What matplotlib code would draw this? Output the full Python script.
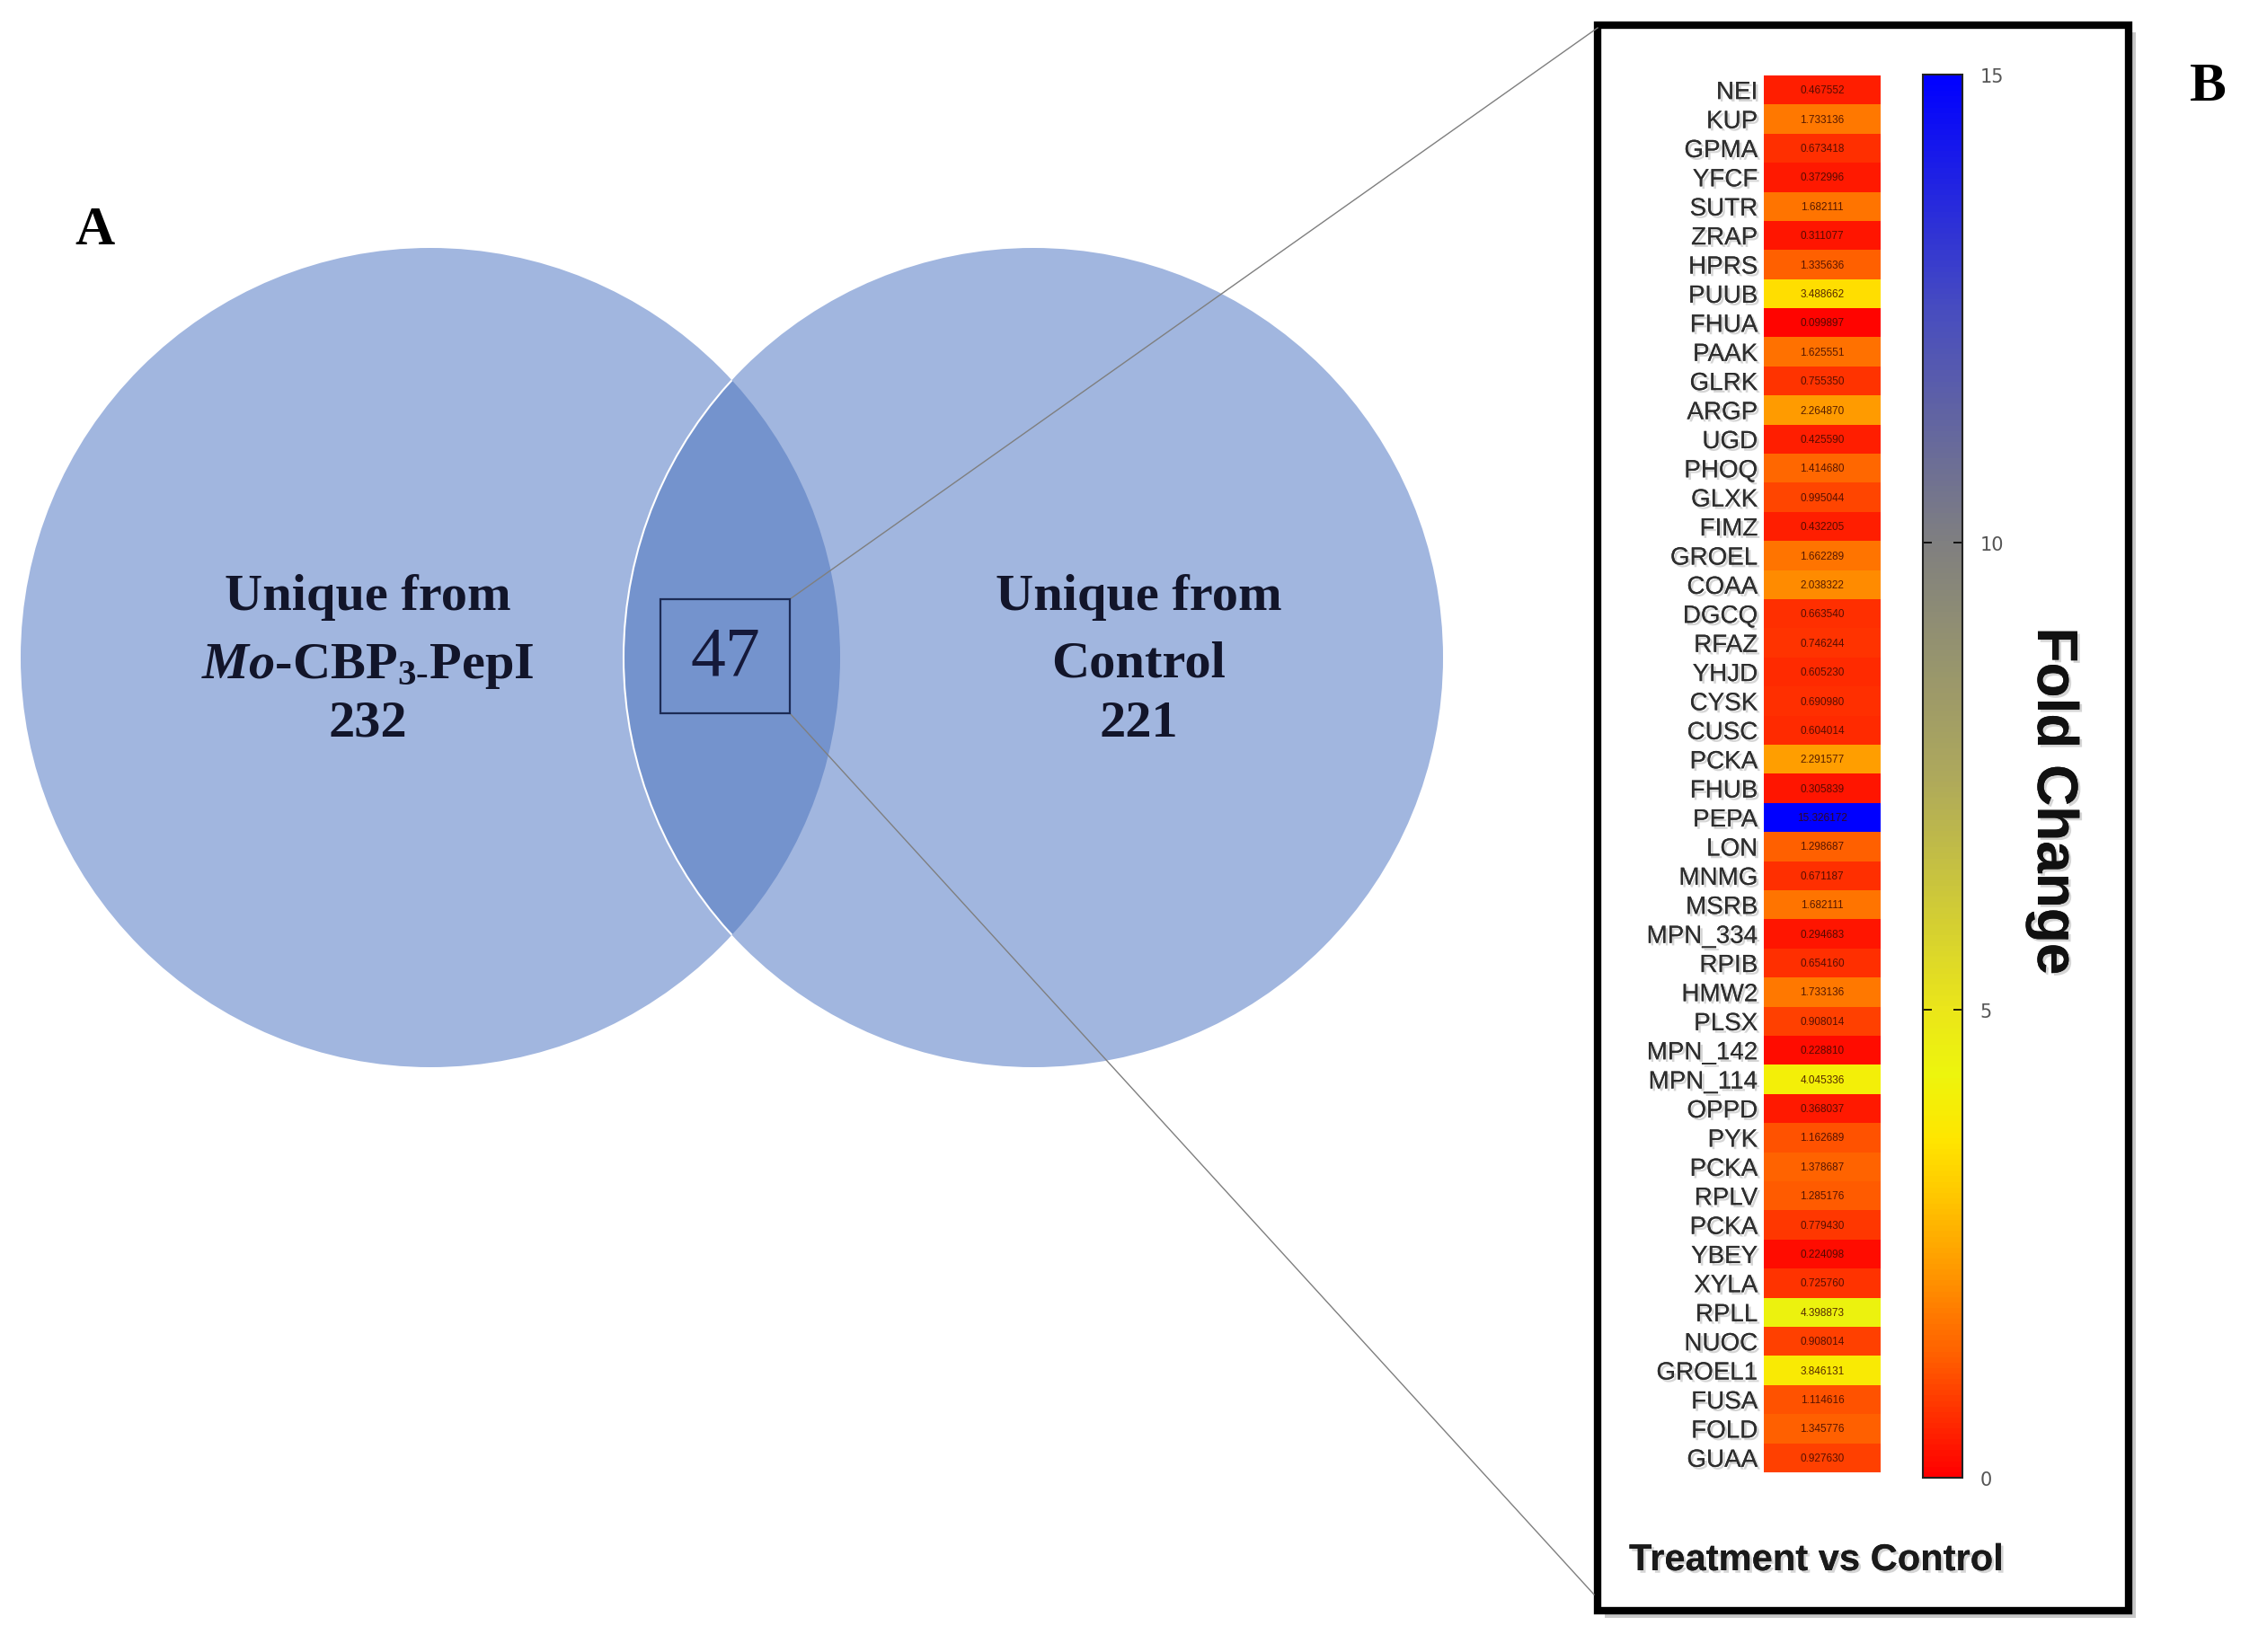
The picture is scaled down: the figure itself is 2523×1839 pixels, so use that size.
import numpy as np
import matplotlib
matplotlib.use("Agg")
import matplotlib.pyplot as plt
import matplotlib.patheffects as pe
from matplotlib.patches import Circle, Rectangle
from matplotlib.colors import LinearSegmentedColormap, Normalize

plt.rcParams['mathtext.fontset'] = 'custom'
plt.rcParams['mathtext.rm'] = 'Liberation Serif:bold'
plt.rcParams['mathtext.it'] = 'Liberation Serif:bold:italic'

# venn counts
n_left = 232
n_right = 221
n_both = 47

# heatmap data (fold change, treatment vs control)
genes = ["NEI", "KUP", "GPMA", "YFCF", "SUTR", "ZRAP", "HPRS", "PUUB", "FHUA", "PAAK",
         "GLRK", "ARGP", "UGD", "PHOQ", "GLXK", "FIMZ", "GROEL", "COAA", "DGCQ", "RFAZ",
         "YHJD", "CYSK", "CUSC", "PCKA", "FHUB", "PEPA", "LON", "MNMG", "MSRB", "MPN_334",
         "RPIB", "HMW2", "PLSX", "MPN_142", "MPN_114", "OPPD", "PYK", "PCKA", "RPLV", "PCKA",
         "YBEY", "XYLA", "RPLL", "NUOC", "GROEL1", "FUSA", "FOLD", "GUAA"]
fold = [0.467552, 1.733136, 0.673418, 0.372996, 1.682111, 0.311077, 1.335636, 3.488662,
        0.099897, 1.625551, 0.755350, 2.264870, 0.425590, 1.414680, 0.995044, 0.432205,
        1.662289, 2.038322, 0.663540, 0.746244, 0.605230, 0.690980, 0.604014, 2.291577,
        0.305839, 15.326172, 1.298687, 0.671187, 1.682111, 0.294683, 0.654160, 1.733136,
        0.908014, 0.228810, 4.045336, 0.368037, 1.162689, 1.378687, 1.285176, 0.779430,
        0.224098, 0.725760, 4.398873, 0.908014, 3.846131, 1.114616, 1.345776, 0.927630]
cbar_ticks = [0, 5, 10, 15]

W, H = 2523, 1840
fig = plt.figure(figsize=(W / 100, H / 100), dpi=100)
ax = fig.add_axes([0, 0, 1, 1])
ax.set_xlim(0, W)
ax.set_ylim(H, 0)
ax.axis('off')

# ---- panel A: venn ----
light = '#a1b6df'
dark = '#7493cd'
r = 456
cl = (479, 733)
cr = (1150, 733)
ax.add_patch(Circle(cl, r, fc=light, ec='none', zorder=1))
ax.add_patch(Circle(cr, r, fc=light, ec='none', zorder=1))
clip = Circle(cl, r, transform=ax.transData)
inter = Circle(cr, r, fc=dark, ec='white', lw=1.5, zorder=2)
ax.add_patch(inter)
inter.set_clip_path(clip)

txt_kw = dict(family='Liberation Serif', weight='bold', fontsize=42, color='#12152a',
              ha='center', va='center', zorder=5)
ax.text(409, 665, "Unique from", **txt_kw)
ax.text(409, 742, r"$\mathit{Mo}$-CBP$_{3\text{-}}$PepI", **txt_kw)
ax.text(409, 806, str(n_left), **txt_kw)
ax.text(1267, 665, "Unique from", **txt_kw)
ax.text(1267, 740, "Control", **txt_kw)
ax.text(1267, 806, str(n_right), **txt_kw)

ax.add_patch(Rectangle((735, 668), 144, 127, fc='none', ec='#1c2b55', lw=1.6, zorder=6))
ax.text(807, 733, str(n_both), family='Liberation Serif', fontsize=56, color='#15193a',
        ha='center', va='center', zorder=6)

ax.plot([879, 1778], [668, 32], color='#7f7f7f', lw=1, zorder=4)
ax.plot([879, 1774], [795, 1776], color='#7f7f7f', lw=1, zorder=4)

ax.text(105, 257, "A", family='Liberation Serif', weight='bold', fontsize=44,
        ha='center', va='center', color='black')
ax.text(2457, 97, "B", family='Liberation Serif', weight='bold', fontsize=44,
        ha='center', va='center', color='black')

# ---- panel B frame ----
ax.add_patch(Rectangle((1786, 37), 591, 1765, fc='#c8c8c8', ec='none', zorder=3))
ax.add_patch(Rectangle((1778, 29), 591, 1765, fc='white', ec='black', lw=6, zorder=3))

shadow = [pe.withSimplePatchShadow(offset=(2, -2), shadow_rgbFace='#888888', alpha=0.35),
          pe.Normal()]
ax.text(1813, 1738, "Treatment vs Control", family='Liberation Sans', weight='bold',
        fontsize=30, color='#1a1a1a', ha='left', va='center', zorder=6, path_effects=shadow)
ax.text(2285, 893, "Fold Change", family='Liberation Sans', weight='bold', fontsize=46,
        color='#111111', ha='center', va='center', rotation=270, zorder=6,
        path_effects=shadow)

# ---- heatmap ----
cmap = LinearSegmentedColormap.from_list('fc', [
    (0.0, (1.0, 0.0, 0.0)),
    (0.7 / 15, (1.0, 0.2, 0.0)),
    (1.3 / 15, (1.0, 0.38, 0.0)),
    (1.7 / 15, (1.0, 0.47, 0.0)),
    (2.2 / 15, (1.0, 0.6, 0.0)),
    (3.0 / 15, (1.0, 0.78, 0.0)),
    (3.6 / 15, (1.0, 0.9, 0.0)),
    (4.3 / 15, (0.93, 0.96, 0.05)),
    (5.0 / 15, (0.92, 0.9, 0.1)),
    (7.5 / 15, (0.68, 0.66, 0.36)),
    (10.0 / 15, (0.5, 0.5, 0.5)),
    (12.5 / 15, (0.28, 0.3, 0.75)),
    (1.0, (0.0, 0.0, 1.0)),
])
norm = Normalize(vmin=0, vmax=15)

hax = fig.add_axes([1963 / W, 1 - 1640 / H, 130 / W, 1555 / H], zorder=10)
vals = np.array(fold).reshape(-1, 1)
im = hax.imshow(vals, cmap=cmap, norm=norm, aspect='auto', interpolation='nearest')
hax.set_xticks([])
hax.set_yticks(range(len(genes)))
hax.set_yticklabels(genes, family='Liberation Sans', fontsize=20, color='#2e2e2e')
hax.tick_params(axis='y', length=0, pad=5)
for s in hax.spines.values():
    s.set_visible(False)
for t in hax.get_yticklabels():
    t.set_path_effects(shadow)
for i, v in enumerate(fold):
    hax.text(0, i, f"{v:.6f}", fontsize=8.5, family='Liberation Sans',
             color='#3a0800', ha='center', va='center', alpha=0.85)

cax = fig.add_axes([2140 / W, 1 - 1646 / H, 44 / W, 1562 / H], zorder=10)
cb = fig.colorbar(im, cax=cax, ticks=cbar_ticks)
cb.outline.set_linewidth(1.5)
cb.outline.set_edgecolor('#222222')
cax.tick_params(axis='y', direction='in', left=True, right=True, length=7, width=1.2,
                labelsize=15, labelcolor='#555555', pad=14)

fig.savefig('out.png', dpi=100)
